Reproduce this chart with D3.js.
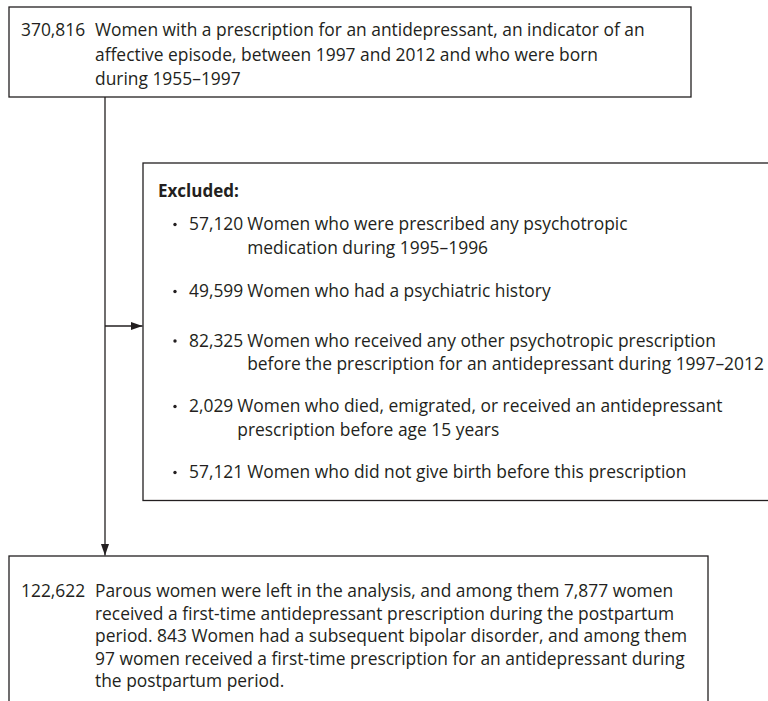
<!DOCTYPE html>
<html>
<head>
<meta charset="utf-8">
<script src="https://cdn.jsdelivr.net/npm/d3@7"></script>
<style>
  html, body { margin: 0; padding: 0; background: #fff; }
  svg { display: block; }
  text { font-family: "Open Sans", Lato, sans-serif; fill: #231f20; }
</style>
</head>
<body>
<div id="chart"></div>
<script>
// flowchart content
const topCount = "370,816";
const topLines = [
  "Women with a prescription for an antidepressant, an indicator of an",
  "affective episode, between 1997 and 2012 and who were born",
  "during 1955\u20131997"
];

const excludedTitle = "Excluded:";
const excludedCounts = ["57,120", "49,599", "82,325", "2,029", "57,121"];
const excludedLines = [
  ["Women who were prescribed any psychotropic", "medication during 1995\u20131996"],
  ["Women who had a psychiatric history"],
  ["Women who received any other psychotropic prescription", "before the prescription for an antidepressant during 1997\u20132012"],
  ["Women who died, emigrated, or received an antidepressant", "prescription before age 15 years"],
  ["Women who did not give birth before this prescription"]
];

const finalCount = "122,622";
const finalLines = [
  "Parous women were left in the analysis, and among them 7,877 women",
  "received a first-time antidepressant prescription during the postpartum",
  "period. 843 Women had a subsequent bipolar disorder, and among them",
  "97 women received a first-time prescription for an antidepressant during",
  "the postpartum period."
];

const width = 768;
const height = 701;
const fs = 17.4;
const ink = "#231f20";

const svg = d3.select("#chart")
  .append("svg")
  .attr("width", width)
  .attr("height", height);

svg.append("defs").append("marker")
  .attr("id", "arrow")
  .attr("viewBox", "0 0 10 10")
  .attr("refX", 10)
  .attr("refY", 5)
  .attr("markerWidth", 12)
  .attr("markerHeight", 12)
  .attr("markerUnits", "userSpaceOnUse")
  .attr("orient", "auto")
  .append("path")
  .attr("d", "M0,1.5L10,5L0,8.5Z")
  .attr("fill", ink);

// boxes
const boxes = [
  { x: 9, y: 7, w: 682, h: 90 },
  { x: 143, y: 163, w: 640, h: 337.5 },
  { x: 9, y: 556, w: 699, h: 160 }
];

svg.selectAll("rect.box")
  .data(boxes)
  .enter()
  .append("rect")
  .attr("class", "box")
  .attr("x", d => d.x)
  .attr("y", d => d.y)
  .attr("width", d => d.w)
  .attr("height", d => d.h)
  .attr("fill", "none")
  .attr("stroke", ink)
  .attr("stroke-width", 1.3);

// connectors
svg.append("line")
  .attr("x1", 105).attr("y1", 97)
  .attr("x2", 105).attr("y2", 555.5)
  .attr("stroke", ink).attr("stroke-width", 1.3)
  .attr("marker-end", "url(#arrow)");

svg.append("line")
  .attr("x1", 105).attr("y1", 326)
  .attr("x2", 142.5).attr("y2", 326)
  .attr("stroke", ink).attr("stroke-width", 1.3)
  .attr("marker-end", "url(#arrow)");

// helper for count + wrapped lines
function countBlock(count, lines, x, textX, y0, step) {
  const g = svg.append("g");
  g.append("text")
    .attr("x", x).attr("y", y0)
    .attr("font-size", fs)
    .text(count);
  g.selectAll("text.line")
    .data(lines)
    .enter()
    .append("text")
    .attr("class", "line")
    .attr("x", textX)
    .attr("y", (d, i) => y0 + i * step)
    .attr("font-size", fs)
    .text(d => d);
}

countBlock(topCount, topLines, 21, 95, 36, 24.5);
countBlock(finalCount, finalLines, 21, 95, 597, 22.5);

// excluded box
svg.append("text")
  .attr("x", 158).attr("y", 197)
  .attr("font-size", fs - 0.4)
  .attr("font-weight", "bold")
  .text(excludedTitle);

const bulletY = [230, 297, 346.5, 412, 478];
const lineStep = 23.5;

excludedCounts.forEach((c, i) => {
  const y = bulletY[i];
  svg.append("circle")
    .attr("cx", 175).attr("cy", y - 5.5)
    .attr("r", 1.7)
    .attr("fill", ink);
  const num = svg.append("text")
    .attr("x", 189).attr("y", y)
    .attr("font-size", fs)
    .text(c);
  const nx = 189 + num.node().getComputedTextLength() + 4;
  svg.selectAll("text.ex" + i)
    .data(excludedLines[i])
    .enter()
    .append("text")
    .attr("class", "ex" + i)
    .attr("x", nx)
    .attr("y", (d, j) => y + j * lineStep)
    .attr("font-size", fs)
    .text(d => d);
});
</script>
</body>
</html>
